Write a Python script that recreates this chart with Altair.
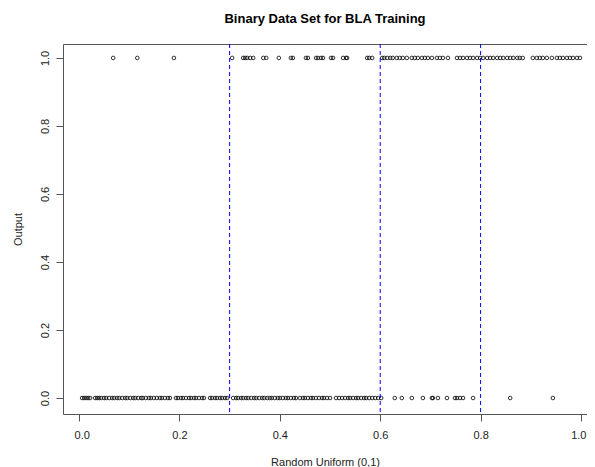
import altair as alt
import pandas as pd

# Points with Output = 1
x_one = [0.068, 0.116, 0.189, 0.305, 0.327, 0.331, 0.335, 0.341, 0.347, 0.367, 0.373,
         0.398, 0.422, 0.426, 0.452, 0.456, 0.472, 0.476, 0.482, 0.486, 0.502, 0.506,
         0.526, 0.532, 0.534, 0.574, 0.578, 0.584, 0.604, 0.608, 0.614, 0.620, 0.625,
         0.633, 0.639, 0.645, 0.653, 0.663, 0.669, 0.675, 0.683, 0.689, 0.695, 0.703,
         0.713, 0.719, 0.725, 0.735, 0.753, 0.759, 0.765, 0.773, 0.779, 0.785, 0.793,
         0.799, 0.805, 0.813, 0.819, 0.825, 0.833, 0.839, 0.845, 0.853, 0.859, 0.865,
         0.873, 0.878, 0.884, 0.904, 0.912, 0.918, 0.924, 0.932, 0.942, 0.952, 0.958,
         0.964, 0.972, 0.978, 0.984, 0.992, 0.998]

# Points with Output = 0
x_zero = [0.006, 0.010, 0.014, 0.018, 0.022, 0.032, 0.036, 0.040, 0.044, 0.050, 0.054,
          0.060, 0.066, 0.070, 0.076, 0.080, 0.086, 0.092, 0.096, 0.102, 0.108, 0.112,
          0.118, 0.124, 0.127, 0.133, 0.139, 0.143, 0.149, 0.155, 0.161, 0.165, 0.171,
          0.177, 0.181, 0.193, 0.197, 0.203, 0.207, 0.213, 0.219, 0.223, 0.229, 0.233,
          0.239, 0.245, 0.249, 0.261, 0.265, 0.271, 0.275, 0.281, 0.285, 0.291, 0.295,
          0.307, 0.313, 0.317, 0.323, 0.327, 0.333, 0.337, 0.343, 0.349, 0.353, 0.359,
          0.365, 0.369, 0.375, 0.380, 0.384, 0.390, 0.396, 0.400, 0.406, 0.412, 0.416,
          0.422, 0.428, 0.432, 0.440, 0.446, 0.450, 0.456, 0.462, 0.466, 0.472, 0.478,
          0.484, 0.488, 0.494, 0.500, 0.512, 0.518, 0.524, 0.530, 0.536, 0.540, 0.546,
          0.552, 0.556, 0.562, 0.568, 0.572, 0.578, 0.584, 0.590, 0.596, 0.602, 0.629,
          0.643, 0.663, 0.685, 0.703, 0.705, 0.715, 0.733, 0.749, 0.753, 0.759, 0.765,
          0.785, 0.859, 0.944]

cutoffs = [0.3, 0.6, 0.8]
ticks = [0.0, 0.2, 0.4, 0.6, 0.8, 1.0]

df = pd.DataFrame({
    "x": x_one + x_zero,
    "y": [1] * len(x_one) + [0] * len(x_zero),
})
cut_df = pd.DataFrame({"c": cutoffs})

FONT = "Liberation Sans"

xscale = alt.Scale(domain=[-0.032, 1.012], nice=False, zero=False)
yscale = alt.Scale(domain=[-0.047, 1.041], nice=False, zero=False)

points = alt.Chart(df).mark_point(
    shape="circle", filled=False, size=13, stroke="black", strokeWidth=0.8, opacity=1
).encode(
    x=alt.X("x:Q", scale=xscale, title="Random Uniform (0,1)",
            axis=alt.Axis(values=ticks, format=".1f", grid=False, domain=False,
                          tickSize=7, tickColor="#555", labelPadding=8,
                          labelFlush=20, labelFlushOffset=5,
                          labelFontSize=11, labelFont=FONT, labelColor="#222",
                          titleFont=FONT, titleFontSize=11, titleFontWeight="normal",
                          titleColor="#222", titlePadding=16)),
    y=alt.Y("y:Q", scale=yscale, title="Output",
            axis=alt.Axis(values=ticks, format=".1f", grid=False, domain=False,
                          tickSize=7, tickColor="#555", labelPadding=6,
                          labelAngle=-90, labelAlign="center", labelBaseline="bottom",
                          labelFontSize=11, labelFont=FONT, labelColor="#222",
                          titleFont=FONT, titleFontSize=11, titleFontWeight="normal",
                          titleColor="#222", titlePadding=16)),
)

rules = alt.Chart(cut_df).mark_rule(stroke="blue", strokeDash=[4, 3], strokeWidth=1,
                                     opacity=1).encode(
    x=alt.X("c:Q", scale=xscale)
)

chart = alt.layer(points, rules).properties(
    width=524, height=370,
    title=alt.Title("Binary Data Set for BLA Training", font=FONT, fontSize=13,
                    fontWeight="bold", anchor="middle", offset=18, color="black"),
    padding={"left": 55, "top": 36, "right": 0, "bottom": 53},
    autosize=alt.AutoSizeParams(type="none"),
).configure_view(stroke="#555", strokeWidth=1)

chart.save("out.html", embed_options={"renderer": "svg", "actions": False})
